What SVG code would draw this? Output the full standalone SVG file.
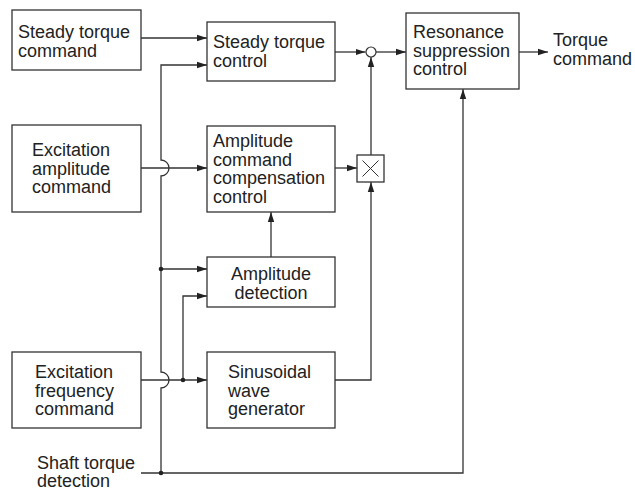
<svg xmlns="http://www.w3.org/2000/svg" width="635" height="490" viewBox="0 0 635 490">
<style>
.box{fill:#fff;stroke:#333;stroke-width:1.3}
.ln{fill:none;stroke:#333;stroke-width:1.3}
.t{font-family:"Liberation Sans",Arial,sans-serif;font-size:18px;fill:#222}
.c{text-anchor:middle}
.dot{fill:#222}
</style>
<defs>
<marker id="ar" markerWidth="10" markerHeight="8" refX="10" refY="4" orient="auto" markerUnits="userSpaceOnUse">
<path d="M0,0.8 L10,4 L0,7.2 z" fill="#222"/>
</marker>
</defs>
<g id="connectors">
<path class="ln" d="M141,38 H207" marker-end="url(#ar)"/>
<path class="ln" d="M161,473 V388 A8,8 0 0 0 161,372 V176 A8,8 0 0 0 161,160 V65 H207" marker-end="url(#ar)"/>
<path class="ln" d="M161,269 H207" marker-end="url(#ar)"/>
<path class="ln" d="M141,473 H463 V89" marker-end="url(#ar)"/>
<path class="ln" d="M141,168 H207" marker-end="url(#ar)"/>
<path class="ln" d="M335,168 H357" marker-end="url(#ar)"/>
<path class="ln" d="M371,155 V57" marker-end="url(#ar)"/>
<path class="ln" d="M335,52 H365.5" marker-end="url(#ar)"/>
<path class="ln" d="M376,52 H406" marker-end="url(#ar)"/>
<path class="ln" d="M519,52 H548" marker-end="url(#ar)"/>
<path class="ln" d="M271,257 V212" marker-end="url(#ar)"/>
<path class="ln" d="M141,380 H207" marker-end="url(#ar)"/>
<path class="ln" d="M183,380 V296 H207" marker-end="url(#ar)"/>
<path class="ln" d="M335,380 H371 V182" marker-end="url(#ar)"/>
<circle class="dot" cx="161" cy="269" r="2.3"/>
<circle class="dot" cx="161" cy="473" r="2.3"/>
<circle class="dot" cx="183" cy="380" r="2.3"/>
</g>
<g id="steady-torque-command">
<rect class="box" x="12" y="10" width="129" height="60"/>
<text class="t" x="18" y="38">Steady torque</text>
<text class="t" x="18" y="57">command</text>
</g>
<g id="steady-torque-control">
<rect class="box" x="207" y="22" width="128" height="59"/>
<text class="t" x="213" y="48">Steady torque</text>
<text class="t" x="213" y="67">control</text>
</g>
<g id="sum">
<circle cx="371" cy="52" r="5" fill="#fff" stroke="#333" stroke-width="1.2"/>
</g>
<g id="resonance-suppression-control">
<rect class="box" x="406" y="13" width="113" height="76"/>
<text class="t" x="413" y="38">Resonance</text>
<text class="t" x="413" y="56.5">suppression</text>
<text class="t" x="413" y="75">control</text>
</g>
<g id="torque-command">
<text class="t" x="553" y="45.5">Torque</text>
<text class="t" x="553" y="64.5">command</text>
</g>
<g id="excitation-amplitude-command">
<rect class="box" x="12" y="125" width="129" height="87"/>
<text class="t" x="32" y="156">Excitation</text>
<text class="t" x="32" y="174.5">amplitude</text>
<text class="t" x="32" y="193">command</text>
</g>
<g id="amplitude-command-compensation-control">
<rect class="box" x="207" y="126" width="128" height="86"/>
<text class="t" x="213" y="147">Amplitude</text>
<text class="t" x="213" y="165.5">command</text>
<text class="t" x="213" y="184">compensation</text>
<text class="t" x="213" y="202.5">control</text>
</g>
<g id="multiplier">
<rect class="box" x="357" y="155" width="27" height="27"/>
<path d="M362.5,160.5 L378.5,176.5 M378.5,160.5 L362.5,176.5" stroke="#333" stroke-width="1"/>
</g>
<g id="amplitude-detection">
<rect class="box" x="207" y="257" width="128" height="50"/>
<text class="t c" x="271" y="280">Amplitude</text>
<text class="t c" x="271" y="298.5">detection</text>
</g>
<g id="excitation-frequency-command">
<rect class="box" x="12" y="352" width="129" height="76"/>
<text class="t" x="35" y="378">Excitation</text>
<text class="t" x="35" y="396.5">frequency</text>
<text class="t" x="35" y="415">command</text>
</g>
<g id="sinusoidal-wave-generator">
<rect class="box" x="207" y="352" width="128" height="76"/>
<text class="t" x="228" y="378">Sinusoidal</text>
<text class="t" x="228" y="396.5">wave</text>
<text class="t" x="228" y="415">generator</text>
</g>
<g id="shaft-torque-detection">
<text class="t" x="37" y="469">Shaft torque</text>
<text class="t" x="37" y="487">detection</text>
</g>
</svg>
